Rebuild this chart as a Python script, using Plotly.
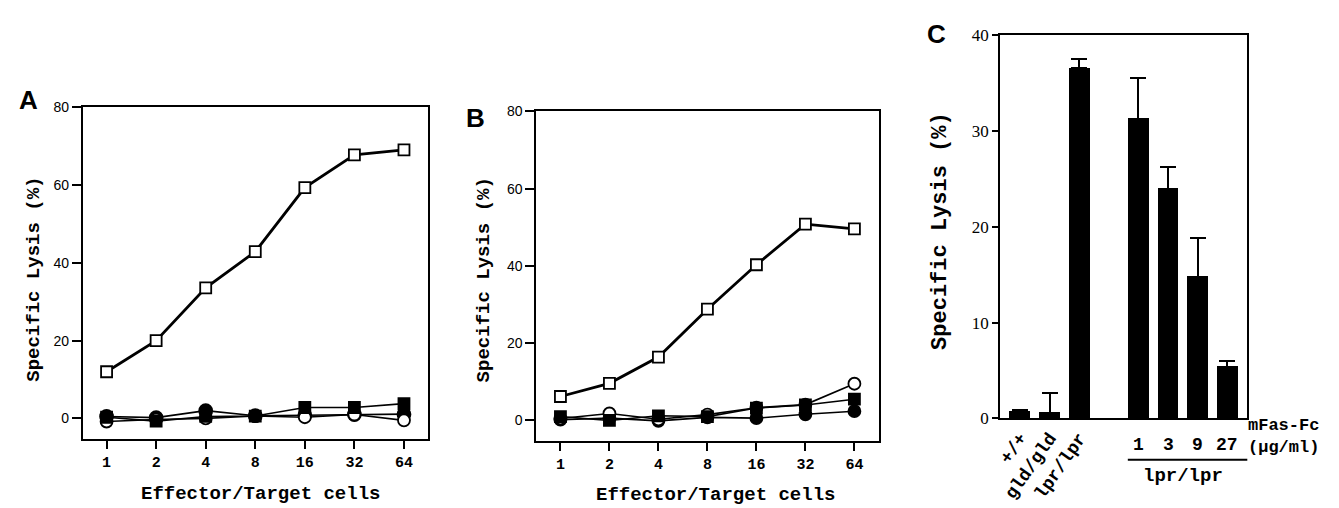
import numpy as np
import plotly.graph_objects as go

# ---------------- data ----------------
et_ratio = [1, 2, 4, 8, 16, 32, 64]
et_labels = ["1", "2", "4", "8", "16", "32", "64"]

a_open_sq = [12.0, 20.0, 33.6, 42.9, 59.4, 67.8, 69.1]
a_filled_sq = [0.3, -0.7, 0.5, 0.6, 2.8, 2.8, 3.8]
a_filled_circ = [0.5, 0.2, 2.0, 0.7, 0.8, 1.0, 1.1]
a_open_circ = [-0.8, -0.3, 0.0, 0.6, 0.3, 1.0, -0.5]

b_open_sq = [6.2, 9.6, 16.4, 28.8, 40.3, 50.8, 49.6]
b_open_circ = [0.5, 1.8, 0.3, 1.5, 3.3, 4.1, 9.5]
b_filled_sq = [1.0, 0.0, 1.2, 1.0, 3.2, 4.0, 5.5]
b_filled_circ = [0.2, 0.6, -0.1, 0.8, 0.6, 1.6, 2.4]

c_labels = ["+/+", "gld/gld", "lpr/lpr", "1", "3", "9", "27"]
c_pos = [0, 1, 2, 4, 5, 6, 7]
c_values = [0.7, 0.6, 36.6, 31.3, 24.0, 14.8, 5.4]
c_err = [0.15, 2.0, 0.9, 4.2, 2.3, 4.0, 0.55]

y_ticks_ab = [0, 20, 40, 60, 80]
y_ticks_c = [0, 10, 20, 30, 40]

# ---------------- figure ----------------
W, H = 1339, 508
xs = np.log2(et_ratio)
MONO = "Liberation Mono, Courier New, monospace"
SANS = "Liberation Sans, Arial, sans-serif"
SERIF = "Liberation Serif, Times New Roman, serif"

fig = go.Figure()


def add_series(y, xa, ya, symbol, filled, lw, size):
    fig.add_trace(go.Scatter(
        x=xs, y=y, xaxis=xa, yaxis=ya, mode="lines+markers",
        line=dict(color="black", width=lw),
        marker=dict(symbol=symbol, size=size,
                    color="black" if filled else "white",
                    line=dict(color="black", width=1.8)),
        showlegend=False, cliponaxis=False))


# Panel A
add_series(a_filled_circ, "x", "y", "circle", True, 1.6, 13)
add_series(a_open_circ, "x", "y", "circle", False, 1.6, 12)
add_series(a_filled_sq, "x", "y", "square", True, 1.6, 11)
add_series(a_open_sq, "x", "y", "square", False, 2.8, 11)

# Panel B
add_series(b_filled_circ, "x2", "y2", "circle", True, 1.6, 12)
add_series(b_open_circ, "x2", "y2", "circle", False, 1.6, 12)
add_series(b_filled_sq, "x2", "y2", "square", True, 1.6, 11)
add_series(b_open_sq, "x2", "y2", "square", False, 2.8, 11)

# Panel C
fig.add_trace(go.Bar(
    x=c_pos, y=c_values, xaxis="x3", yaxis="y3", width=0.7,
    marker=dict(color="black", line=dict(width=0)),
    error_y=dict(type="data", symmetric=False, array=c_err,
                 arrayminus=[0] * len(c_err), color="black",
                 thickness=2, width=8),
    showlegend=False))


def px_x(p):
    return p / W


def px_y(p):
    return 1 - p / H


common_x = dict(showline=True, linecolor="black", linewidth=2, mirror=True,
                ticks="outside", ticklen=8, tickwidth=2, tickcolor="black",
                showgrid=False, zeroline=False,
                tickvals=list(xs), ticktext=et_labels,
                tickfont=dict(family=MONO, size=15, color="black", weight="bold"))
common_y = dict(showline=True, linecolor="black", linewidth=2, mirror=True,
                ticks="outside", ticklen=9, tickwidth=2, tickcolor="black",
                showgrid=False, zeroline=False, tickvals=y_ticks_ab,
                range=[-5.2, 80],
                tickfont=dict(family=SANS, size=14, color="black"))

fig.update_layout(
    width=W, height=H, margin=dict(l=0, r=0, t=0, b=0),
    paper_bgcolor="white", plot_bgcolor="white",
    bargap=0,
    xaxis=dict(common_x, domain=[px_x(71), px_x(417)], range=[-0.48, 6.48], anchor="y"),
    yaxis=dict(common_y, domain=[px_y(438), px_y(94)], anchor="x"),
    xaxis2=dict(common_x, domain=[px_x(526), px_x(870)], range=[-0.49, 6.51], anchor="y2"),
    yaxis2=dict(common_y, domain=[px_y(440), px_y(98)], anchor="x2"),
    xaxis3=dict(showline=True, linecolor="black", linewidth=2, mirror=True,
                ticks="", showgrid=False, zeroline=False,
                domain=[px_x(991), px_x(1239)], range=[-0.67, 7.67], anchor="y3",
                tickvals=c_pos[:3], ticktext=c_labels[:3], tickangle=-55,
                tickfont=dict(family=MONO, size=18, color="black", weight="bold")),
    yaxis3=dict(showline=True, linecolor="black", linewidth=2, mirror=True,
                ticks="outside", ticklen=6, tickwidth=2, tickcolor="black",
                showgrid=False, zeroline=False, tickvals=y_ticks_c, range=[0, 40],
                domain=[px_y(417), px_y(19)], anchor="x3",
                tickfont=dict(family=SERIF, size=17, color="black")),
)

ann = []
# panel letters
for letter, (cx, cy) in zip(["A", "B", "C"], [(17, 86), (465, 105), (927, 18)]):
    ann.append(dict(text=letter, x=px_x(cx), y=px_y(cy), xref="paper", yref="paper",
                    showarrow=False, xanchor="center", yanchor="middle",
                    font=dict(family=SANS, size=26, color="black", weight="bold")))
# y titles
for (cx, cy, sz) in [(22, 272, 19), (473, 273, 19), (931, 222, 22)]:
    ann.append(dict(text="Specific Lysis (%)", x=px_x(cx), y=px_y(cy),
                    xref="paper", yref="paper", textangle=-90, showarrow=False,
                    xanchor="center", yanchor="middle",
                    font=dict(family=MONO, size=sz, color="black", weight="bold")))
# x titles
for (cx, cy) in [(249, 496), (706, 497)]:
    ann.append(dict(text="Effector/Target cells", x=px_x(cx), y=px_y(cy),
                    xref="paper", yref="paper", showarrow=False,
                    xanchor="center", yanchor="middle",
                    font=dict(family=MONO, size=19, color="black", weight="bold")))
# panel C dose labels
for p, lab in zip(c_pos[3:], c_labels[3:]):
    ann.append(dict(text=lab, x=p, y=px_y(445), xref="x3", yref="paper",
                    showarrow=False, xanchor="center", yanchor="middle",
                    font=dict(family=MONO, size=18, color="black", weight="bold")))
ann.append(dict(text="mFas-Fc<br>(µg/ml)", x=px_x(1238), y=px_y(436),
                xref="paper", yref="paper", showarrow=False,
                xanchor="left", yanchor="middle", align="left",
                font=dict(family=MONO, size=17, color="black", weight="bold")))
ann.append(dict(text="lpr/lpr", x=(c_pos[3] + c_pos[-1]) / 2, y=px_y(477),
                xref="x3", yref="paper", showarrow=False,
                xanchor="center", yanchor="middle",
                font=dict(family=MONO, size=19, color="black", weight="bold")))
fig.update_layout(annotations=ann)

fig.add_shape(type="line", xref="x3", yref="paper",
              x0=c_pos[3] - 0.36, x1=c_pos[-1] + 0.71, y0=px_y(460), y1=px_y(460),
              line=dict(color="black", width=2))

fig.write_html("out.html")
